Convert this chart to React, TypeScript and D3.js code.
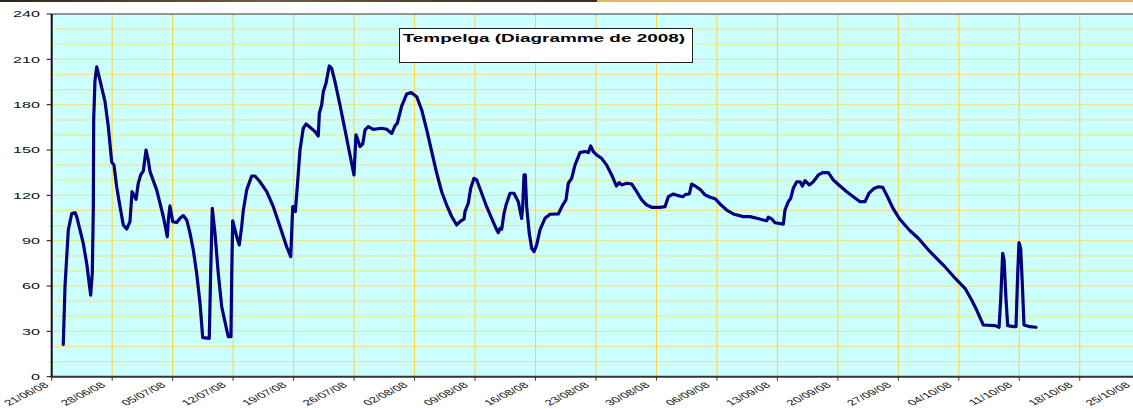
import React from 'react';
import * as d3 from 'd3';

// ---- data ----
const startDate = '2008-06-21';
const endDate = '2008-10-25';
const chartTitle = 'Tempelga (Diagramme de 2008)';
const yTickValues = [0, 30, 60, 90, 120, 150, 180, 210, 240];
const yGridValues = [10, 20, 30, 40, 50, 60, 70, 80, 90, 100, 110, 120, 130, 140, 150, 160, 170, 180, 190, 200, 210, 220, 230];

// time in days since 21/06/08
const dayOffsets = [
  1.34, 1.54, 1.92, 2.32, 2.7, 2.89, 3.28, 3.66, 4.05, 4.51, 4.7, 4.82, 4.86, 5.01, 5.21, 5.59, 6.17, 6.55, 6.95, 7.21,
  7.52, 7.91, 8.29, 8.68, 9.06, 9.3, 9.53, 9.76, 10.02, 10.3, 10.6, 10.92, 11.18, 11.38, 12.15, 12.92, 13.38, 13.5, 13.69, 14.01,
  14.47, 14.85, 15.23, 15.63, 16.01, 16.39, 16.78, 17.17, 17.48, 18.24, 18.4, 18.59, 18.9, 19.28, 19.68, 20.26, 20.44, 20.75, 20.84, 20.95,
  21.41, 21.72, 21.99, 22.18, 22.57, 23.15, 23.53, 24.11, 24.89, 25.65, 26.43, 27.2, 27.67, 27.9, 28.05, 28.2, 28.43, 28.74, 29.12, 29.44,
  29.9, 30.48, 30.86, 30.98, 31.25, 31.44, 31.75, 32.13, 32.41, 32.79, 33.37, 33.95, 34.53, 34.99, 35.22, 35.37, 35.69, 36.0, 36.27, 36.65,
  37.23, 38.2, 38.78, 39.36, 39.74, 40.0, 40.51, 41.09, 41.61, 42.25, 42.83, 43.41, 43.99, 44.57, 45.14, 45.72, 46.3, 46.88, 47.26, 47.73,
  47.84, 48.22, 48.5, 48.88, 49.2, 49.77, 50.35, 50.93, 51.51, 51.7, 51.89, 52.09, 52.36, 52.59, 53.05, 53.51, 54.01, 54.4, 54.52, 54.67,
  54.82, 54.98, 55.28, 55.56, 55.83, 56.14, 56.52, 57.1, 57.68, 58.64, 59.15, 59.53, 59.8, 60.19, 60.57, 61.15, 61.73, 62.11, 62.39, 62.69,
  63.09, 63.66, 64.24, 64.82, 65.36, 65.7, 65.98, 66.56, 67.14, 67.72, 68.3, 68.88, 69.45, 70.42, 70.99, 71.38, 71.96, 72.53, 73.04, 73.42,
  73.81, 74.08, 74.47, 75.05, 75.63, 76.21, 76.78, 77.36, 78.13, 78.9, 80.06, 80.83, 81.61, 82.37, 82.77, 82.95, 83.34, 83.73, 84.69, 84.88,
  85.27, 85.54, 85.84, 86.24, 86.62, 86.89, 87.2, 87.69, 88.16, 88.74, 89.25, 89.9, 90.47, 91.25, 92.03, 92.79, 93.57, 94.14, 94.61, 95.19,
  95.71, 96.19, 96.75, 97.42, 98.2, 99.35, 100.31, 101.67, 103.21, 104.76, 105.72, 106.49, 107.07, 107.84, 109.19, 109.66, 109.85, 110.08, 110.24, 110.47,
  110.66, 111.31, 111.62, 111.82, 111.97, 112.16, 112.35, 112.55, 113.24, 113.94,
];

const levels = [
  21.4, 59.6, 97, 108, 108.5, 106, 97, 88, 75, 54, 68.6, 112.5, 170, 196, 205, 196, 182, 165.5, 142, 140,
  125.7, 112.5, 100.4, 97.7, 102.6, 122.4, 120, 117.4, 128, 133.5, 136, 150, 143.4, 135.7, 123.6, 106, 92.6, 103.7, 113, 102.6,
  102, 104.8, 106.6, 103.7, 95, 83.9, 68.4, 48.6, 25.8, 25.4, 68.4, 111.4, 95, 68.4, 46.3, 31, 26.5, 26.5, 68.4, 103.2,
  92.6, 87.2, 99.3, 110, 123.6, 132.8, 132.8, 129, 122.4, 112.5, 99.3, 86, 79.4, 112.5, 112.5, 109.2, 125.7, 150, 164.4, 167.2,
  165, 162.2, 159.3, 174.3, 179.8, 188.6, 194.2, 205.6, 204, 195.2, 179.8, 163.3, 146.7, 133.5, 160, 157.8, 152.2, 154, 163.3, 165.5,
  163.7, 164.4, 163.7, 161, 166, 167.7, 179, 187, 188, 185.3, 176.5, 163.3, 149, 134.6, 122.4, 113.6, 106, 100.4, 102.6, 104.4,
  109.2, 114.8, 124.7, 131.3, 130.2, 121.4, 112.5, 104.8, 97.1, 95.3, 98.2, 97.6, 108.1, 113.6, 121.4, 121.4, 115.8, 104.8, 112.5, 133.5,
  133.5, 112.5, 94.9, 85, 82.7, 87.2, 97.1, 104.8, 107.5, 107.7, 113.6, 117, 128, 131.3, 140, 148.3, 149, 148.3, 152.7, 149,
  146.7, 144.5, 140, 133.5, 126.2, 128.4, 126.9, 128, 127.5, 122.4, 117, 113.6, 112.1, 112.1, 112.5, 119.1, 120.9, 119.8, 119.1, 120.7,
  120.9, 127.5, 126.2, 124, 120.3, 118.7, 117.8, 114.3, 110.3, 107.7, 105.9, 105.9, 104.8, 103.7, 103.2, 105.5, 104.4, 101.9, 101, 110.3,
  115.8, 118, 124.7, 129, 129, 126.2, 129.7, 126.9, 129, 133.5, 135, 135, 130.2, 126.2, 122.4, 119.1, 115.8, 115.8, 121.5, 124.5,
  125.7, 125.3, 119.1, 111, 104, 96.6, 91.6, 82.7, 73.9, 64, 58.5, 50.8, 44.1, 34.2, 33.8, 32.7, 50.8, 81.7, 77.2, 50.8,
  33.8, 33.1, 33.1, 68.4, 88.7, 85, 61.8, 34.2, 33.1, 32.7,
];

// ---- layout ----
const W = 1133;
const H = 409;
const plotLeft = 51.7;
const plotTop = 14;
const plotBottom = 376.7;
const pxPerDay = 8.639;
const hScale = 1.7; // horizontal stretch of the text

const parse = d3.timeParse('%Y-%m-%d');
const fmt = d3.timeFormat('%d/%m/%y');

export default function App() {
  const start = parse(startDate) as Date;
  const end = parse(endDate) as Date;
  const nDays = d3.timeDay.count(start, end);
  const x = d3.scaleTime().domain([start, end]).range([plotLeft, plotLeft + nDays * pxPerDay]);
  const y = d3.scaleLinear().domain([0, 240]).range([plotBottom, plotTop]);
  const plotRight = x(end);

  const weeks = d3.timeDay.range(start, d3.timeDay.offset(end, 1), 7);

  const pts = dayOffsets.map((d, i) => ({ t: new Date(start.getTime() + d * 864e5), v: levels[i] }));
  const line = d3
    .line<{ t: Date; v: number }>()
    .x((d) => x(d.t))
    .y((d) => y(d.v))
    .curve(d3.curveLinear);

  const font = "'Liberation Sans', Arial, Helvetica, sans-serif";

  return (
    <svg
      width={W}
      height={H}
      style={{ position: 'absolute', left: 0, top: 0, background: '#ffffff' }}
      fontFamily={font}
    >
      <defs>
        <linearGradient id="topband" x1="0" x2="1" y1="0" y2="0">
          <stop offset="0" stopColor="#2e2418" />
          <stop offset="0.45" stopColor="#6e5c44" />
          <stop offset="0.75" stopColor="#4a3b2a" />
          <stop offset="1" stopColor="#3a2e20" />
        </linearGradient>
      </defs>
      <rect x={0} y={0} width={W} height={H} fill="#ffffff" />
      {/* top decorative band */}
      <rect x={0} y={0} width={597} height={2} fill="url(#topband)" />
      <rect x={597} y={0} width={W - 597} height={2} fill="#d9b868" />

      {/* plot background */}
      <rect x={plotLeft} y={plotTop} width={plotRight - plotLeft} height={plotBottom - plotTop} fill="#ccffff" />

      {/* horizontal grid */}
      {yGridValues.map((v) => (
        <line key={'hg' + v} x1={plotLeft} x2={plotRight} y1={y(v)} y2={y(v)} stroke="#ebe88e" strokeWidth={1.2} />
      ))}
      {/* vertical grid */}
      {weeks.slice(1).map((d, i) => (
        <line key={'vg' + i} x1={x(d)} x2={x(d)} y1={plotTop} y2={plotBottom} stroke="#f6d845" strokeWidth={1.1} />
      ))}

      {/* plot top border */}
      <line x1={plotLeft} x2={plotRight} y1={plotTop} y2={plotTop} stroke="#333333" strokeWidth={1} />

      {/* title box */}
      <rect x={399.5} y={28.5} width={293} height={34} fill="#ffffff" stroke="#222222" strokeWidth={1} />
      <g transform={`translate(402.7,41.6) scale(1.66,1)`}>
        <text fontSize={11.4} fontWeight="bold" fill="#000000">
          {chartTitle}
        </text>
      </g>

      {/* data line */}
      <path d={line(pts) || ''} fill="none" stroke="#000080" strokeWidth={3.2} strokeLinejoin="round" strokeLinecap="round" />

      {/* axes */}
      <line x1={plotLeft} x2={plotLeft} y1={plotTop} y2={plotBottom + 1} stroke="#111111" strokeWidth={2} />
      <line x1={plotLeft} x2={plotRight} y1={plotBottom} y2={plotBottom} stroke="#333333" strokeWidth={2} />

      {/* y ticks and labels */}
      {yTickValues.map((v) => (
        <g key={'yt' + v}>
          <line x1={plotLeft - 5} x2={plotLeft} y1={y(v)} y2={y(v)} stroke="#111111" strokeWidth={1} />
          <g transform={`translate(40,${y(v)}) scale(${hScale},1)`}>
            <text fontSize={9.5} textAnchor="end" dy="0.35em" fill="#111111">
              {v}
            </text>
          </g>
        </g>
      ))}

      {/* x ticks and labels */}
      {weeks.map((d, i) => (
        <g key={'xt' + i}>
          <line x1={x(d)} x2={x(d)} y1={plotBottom} y2={plotBottom + 4} stroke="#333333" strokeWidth={1} />
          <g transform={`translate(${Math.max(49.5, Math.min(x(d) - 6, 1131))},386) scale(${hScale},1) rotate(-40)`}>
            <text fontSize={8} textAnchor="end" fill="#111111">
              {fmt(d)}
            </text>
          </g>
        </g>
      ))}
    </svg>
  );
}
